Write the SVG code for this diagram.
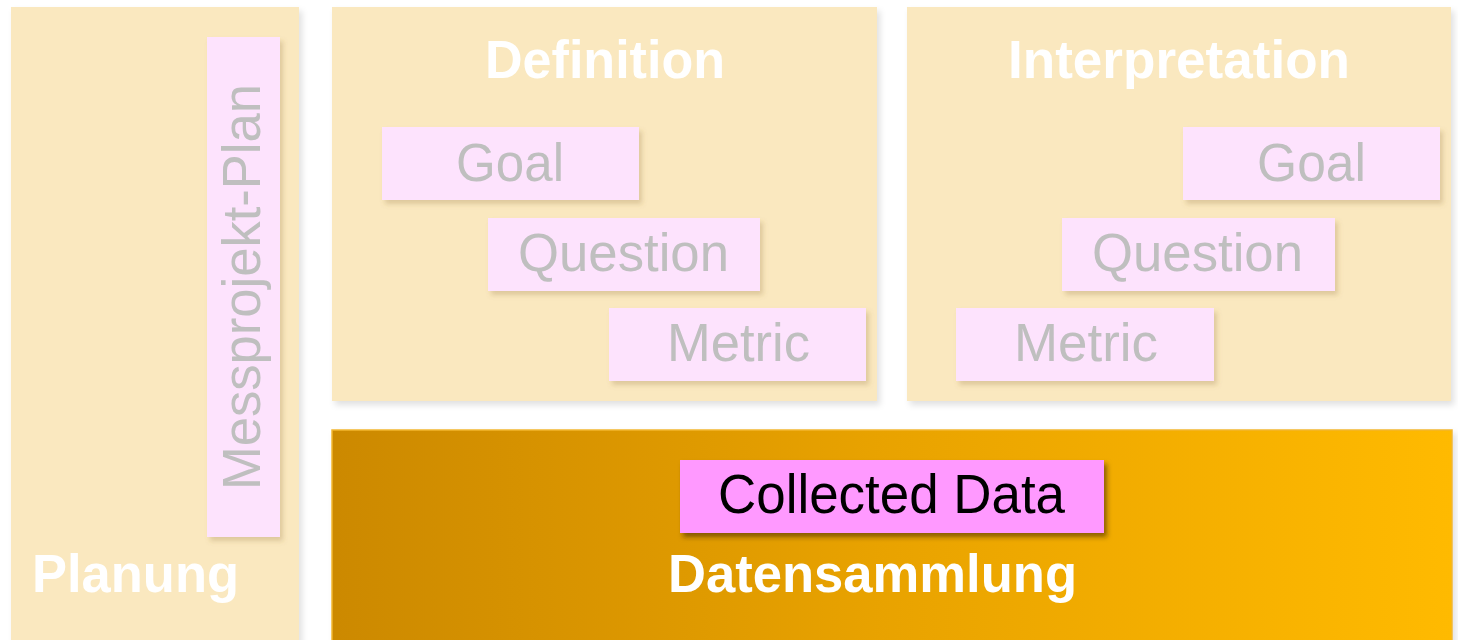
<svg xmlns="http://www.w3.org/2000/svg" width="1458" height="640" viewBox="0 0 1458 640">
  <defs>
    <linearGradient id="gradData" x1="0" y1="0" x2="1" y2="0">
      <stop offset="0" stop-color="#CC8900"/>
      <stop offset="0.5" stop-color="#E9A300"/>
      <stop offset="1" stop-color="#FFBA00"/>
    </linearGradient>
    <filter id="shadowPanel" x="-5%" y="-5%" width="115%" height="115%">
      <feDropShadow dx="3" dy="4" stdDeviation="3" flood-color="#000000" flood-opacity="0.12"/>
    </filter>
    <filter id="shadowCard" x="-5%" y="-10%" width="115%" height="130%">
      <feDropShadow dx="3" dy="4" stdDeviation="2.5" flood-color="#8A6A30" flood-opacity="0.25"/>
    </filter>
    <filter id="shadowDark" x="-5%" y="-10%" width="115%" height="130%">
      <feDropShadow dx="3" dy="4" stdDeviation="2.5" flood-color="#3A2400" flood-opacity="0.55"/>
    </filter>
  </defs>
  <style>
    .panel { fill: #FAE8BF; }
    .card { fill: #FDE3FD; }
    .card-text { font-family: "Liberation Sans", Arial, sans-serif; font-size: 54px; fill: #BFBFBF; }
    .title { font-family: "Liberation Sans", Arial, sans-serif; font-size: 53px; font-weight: bold; fill: #FFFFFF; }
  </style>

  <rect width="1458" height="640" fill="#FFFFFF"/>

  <!-- Planung column -->
  <g id="planung">
    <rect class="panel" x="11" y="7" width="288" height="640" filter="url(#shadowPanel)"/>
    <text class="title" x="32" y="592" textLength="207" lengthAdjust="spacingAndGlyphs">Planung</text>
  </g>
  <g id="messprojekt-plan">
    <rect class="card" x="207" y="37" width="73" height="500" filter="url(#shadowCard)"/>
    <text class="card-text" transform="translate(260 490) rotate(-90)" x="0" y="0" textLength="406" lengthAdjust="spacingAndGlyphs">Messprojekt-Plan</text>
  </g>

  <!-- Definition panel -->
  <g id="definition">
    <rect class="panel" x="332" y="7" width="545" height="394" filter="url(#shadowPanel)"/>
    <text class="title" x="485" y="78" textLength="240" lengthAdjust="spacingAndGlyphs">Definition</text>
  </g>
  <g id="def-goal">
    <rect class="card" x="382" y="127" width="257" height="73" filter="url(#shadowCard)"/>
    <text class="card-text" x="456" y="181" textLength="108" lengthAdjust="spacingAndGlyphs">Goal</text>
  </g>
  <g id="def-question">
    <rect class="card" x="488" y="218" width="272" height="73" filter="url(#shadowCard)"/>
    <text class="card-text" x="518" y="271" textLength="211" lengthAdjust="spacingAndGlyphs">Question</text>
  </g>
  <g id="def-metric">
    <rect class="card" x="609" y="308" width="257" height="73" filter="url(#shadowCard)"/>
    <text class="card-text" x="667" y="361" textLength="143" lengthAdjust="spacingAndGlyphs">Metric</text>
  </g>

  <!-- Interpretation panel -->
  <g id="interpretation">
    <rect class="panel" x="907" y="7" width="544" height="394" filter="url(#shadowPanel)"/>
    <text class="title" x="1008" y="78" textLength="342" lengthAdjust="spacingAndGlyphs">Interpretation</text>
  </g>
  <g id="int-goal">
    <rect class="card" x="1183" y="127" width="257" height="73" filter="url(#shadowCard)"/>
    <text class="card-text" x="1257" y="181" textLength="109" lengthAdjust="spacingAndGlyphs">Goal</text>
  </g>
  <g id="int-question">
    <rect class="card" x="1062" y="218" width="273" height="73" filter="url(#shadowCard)"/>
    <text class="card-text" x="1092" y="271" textLength="211" lengthAdjust="spacingAndGlyphs">Question</text>
  </g>
  <g id="int-metric">
    <rect class="card" x="956" y="308" width="258" height="73" filter="url(#shadowCard)"/>
    <text class="card-text" x="1014" y="361" textLength="144" lengthAdjust="spacingAndGlyphs">Metric</text>
  </g>

  <!-- Datensammlung panel -->
  <g id="datensammlung">
    <rect x="332" y="430" width="1120" height="220" fill="url(#gradData)" stroke="#F2B630" stroke-width="1.5" filter="url(#shadowPanel)"/>
    <text class="title" x="668" y="592" textLength="409" lengthAdjust="spacingAndGlyphs">Datensammlung</text>
  </g>
  <g id="collected-data">
    <rect x="680" y="460" width="424" height="73" fill="#FF99FF" filter="url(#shadowDark)"/>
    <text x="718" y="513" font-family="'Liberation Sans', Arial, sans-serif" font-size="55" fill="#000000" textLength="347" lengthAdjust="spacingAndGlyphs">Collected Data</text>
  </g>

  <!-- no connectors in this figure -->
  <g id="connectors"/>
</svg>
